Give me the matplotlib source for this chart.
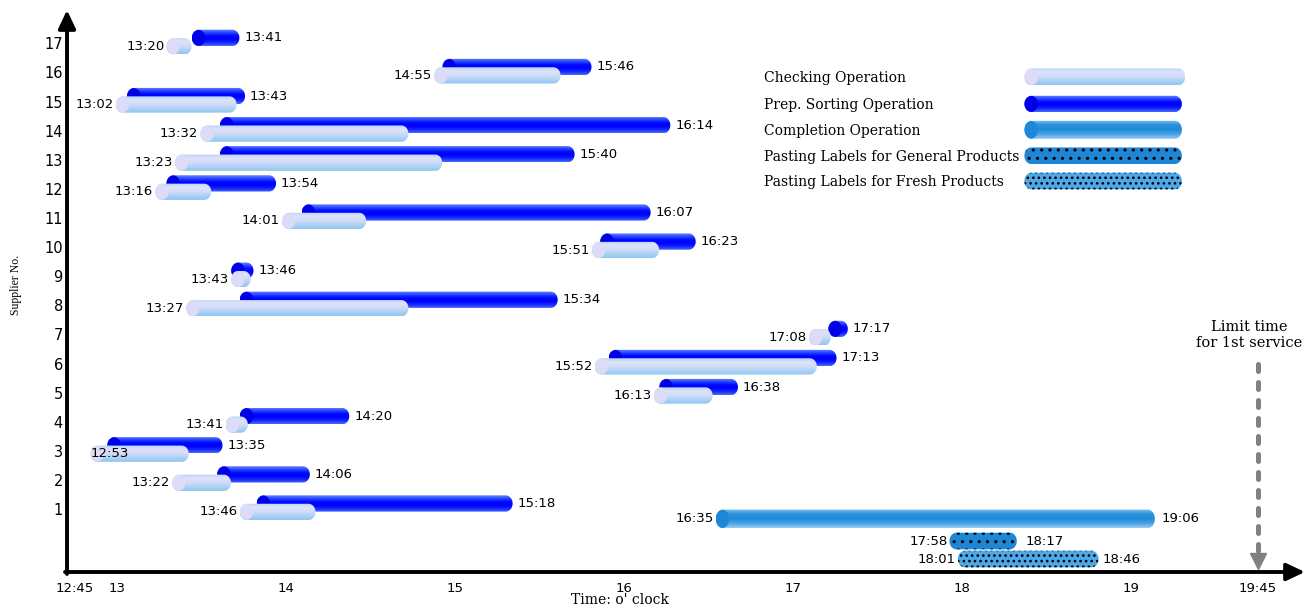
import numpy as np
import matplotlib
matplotlib.use('Agg')
import matplotlib.pyplot as plt
from matplotlib.path import Path
from matplotlib.patches import PathPatch, Ellipse
from matplotlib.colors import LinearSegmentedColormap

# ---------------- data ----------------
suppliers = list(range(1, 18))
check_start = ['13:46', '13:22', '12:53', '13:41', '16:13', '15:52', '17:08', '13:27', '13:43',
               '15:51', '14:01', '13:16', '13:23', '13:32', '13:02', '14:55', '13:20']
check_end = ['14:08', '13:38', '13:23', '13:44', '16:29', '17:06', '17:11', '14:41', '13:45',
             '16:10', '14:26', '13:31', '14:53', '14:41', '13:40', '15:35', '13:24']
prep_start = ['13:52', '13:38', '12:59', '13:46', '16:15', '15:57', '17:15', '13:46', '13:43',
              '15:54', '14:08', '13:20', '13:39', '13:39', '13:06', '14:58', '13:29']
prep_end = ['15:18', '14:06', '13:35', '14:20', '16:38', '17:13', '17:17', '15:34', '13:46',
            '16:23', '16:07', '13:54', '15:40', '16:14', '13:43', '15:46', '13:41']

completion = ['16:35', '19:06']
paste_general = ['17:58', '18:17']
paste_fresh = ['18:01', '18:46']
limit_time = '19:45'

x_ticks = ['12:45', '13:00', '14:00', '15:00', '16:00', '17:00', '18:00', '19:00', '19:45']
x_tick_labels = ['12:45', '13', '14', '15', '16', '17', '18', '19', '19:45']

legend_labels = ['Checking Operation', 'Prep. Sorting Operation', 'Completion Operation',
                 'Pasting Labels for General Products', 'Pasting Labels for Fresh Products']


def hm(s):
    h, m = s.split(':')
    return int(h) + int(m) / 60.0


# ---------------- styles ----------------
NUM_FONT = 'DejaVu Sans'
SERIF = 'DejaVu Serif'
cm_check = LinearSegmentedColormap.from_list('chk', ['#92c6f0', '#acd2f4', '#d0dcf8', '#e0e2fb', '#b4d6f4'])
cm_prep = LinearSegmentedColormap.from_list('prp', ['#4a6cf8', '#1428ff', '#0000ff', '#0008ff', '#2848ff', '#6a88ff'])
cm_comp = LinearSegmentedColormap.from_list('cmp', ['#9ccdf4', '#4aa2e6', '#1e8ad8', '#2a92dc', '#86c2f0'])
CAP_CHECK = '#dcdcf8'
CAP_PREP = '#0000e6'
CAP_COMP = '#1e88d8'
COL_GEN = '#1f86d6'
COL_FRESH = '#4ea8e8'
plt.rcParams['hatch.linewidth'] = 1.1

W, H = 1310, 609
fig = plt.figure(figsize=(W / 100, H / 100), dpi=100)
ax = fig.add_axes([67 / W, (H - 572) / H, (1305 - 67) / W, (572 - 10) / H])
PXH, PXR = 169.0, 29.1
XMIN, XMAX = 13 - 50 / PXH, 13 + 1188 / PXH
YMIN, YMAX = 1 - 63 / PXR, 1 + 499 / PXR

BAR_H = 0.56
DARK_OFF, LIGHT_OFF = 0.19, -0.10
RX = (BAR_H * PXR / 2) / PXH * 0.85


def stadium(x0, x1, yc, h, rx):
    n = 40
    t1 = np.linspace(np.pi / 2, 3 * np.pi / 2, n)
    left = np.column_stack([x0 + rx * np.cos(t1), yc + h / 2 * np.sin(t1)])
    t2 = np.linspace(-np.pi / 2, np.pi / 2, n)
    right = np.column_stack([x1 + rx * np.cos(t2), yc + h / 2 * np.sin(t2)])
    verts = np.vstack([left, right, left[:1]])
    codes = [Path.MOVETO] + [Path.LINETO] * (len(verts) - 2) + [Path.CLOSEPOLY]
    return Path(verts, codes)


def cylinder(x0, x1, yc, h, cmap, cap, z):
    patch = PathPatch(stadium(x0, x1, yc, h, RX), fc='none', ec='none', zorder=z)
    ax.add_patch(patch)
    grad = np.linspace(0, 1, 120).reshape(-1, 1)
    im = ax.imshow(grad, cmap=cmap, extent=[x0 - RX, x1 + RX, yc - h / 2, yc + h / 2],
                   origin='lower', aspect='auto', interpolation='bilinear', zorder=z)
    im.set_clip_path(patch)
    if cap is not None:
        ax.add_patch(Ellipse((x0, yc), 2 * RX * 0.95, h * 0.98, fc=cap, ec='none', zorder=z + 0.01))


def dotted(x0, x1, yc, h, color, hatch, z):
    ax.add_patch(PathPatch(stadium(x0, x1, yc, h, RX), fc=color, ec='black', lw=0,
                           hatch=hatch, zorder=z))


def lab_left(x, y, s):
    if (x - XMIN) * PXH < 50:
        # not enough room before the axis: write over the start of the bar
        ax.annotate(s, xy=(x - RX, y), xytext=(0, 0), textcoords='offset points', ha='left',
                    va='center', fontsize=9.5, family=NUM_FONT, zorder=10)
    else:
        ax.annotate(s, xy=(x - RX, y), xytext=(-1.5, 0), textcoords='offset points', ha='right',
                    va='center', fontsize=9.5, family=NUM_FONT, zorder=10)


def lab_right(x, y, s, off=3.5):
    ax.annotate(s, xy=(x + RX, y), xytext=(off, 0), textcoords='offset points', ha='left',
                va='center', fontsize=9.5, family=NUM_FONT, zorder=10)


# ---------------- supplier bars ----------------
for i, sup in enumerate(suppliers):
    yd = sup + DARK_OFF
    yl = sup + LIGHT_OFF
    z = 2 + i * 0.1
    cylinder(hm(prep_start[i]), hm(prep_end[i]), yd, BAR_H, cm_prep, CAP_PREP, z)
    cylinder(hm(check_start[i]), hm(check_end[i]), yl, BAR_H, cm_check, CAP_CHECK, z + 0.05)
    lab_left(hm(check_start[i]), yl, check_start[i])
    lab_right(hm(prep_end[i]), yd, prep_end[i])

# ---------------- completion / pasting ----------------
y_comp, y_gen, y_fresh = 0.66, -0.10, -0.72
cylinder(hm(completion[0]), hm(completion[1]), y_comp, 0.64, cm_comp, CAP_COMP, 4)
lab_left(hm(completion[0]), y_comp, completion[0])
lab_right(hm(completion[1]), y_comp, completion[1], off=5)
dotted(hm(paste_general[0]), hm(paste_general[1]), y_gen, 0.57, COL_GEN, '..', 4)
lab_left(hm(paste_general[0]), y_gen, paste_general[0])
lab_right(hm(paste_general[1]), y_gen, paste_general[1], off=6)
dotted(hm(paste_fresh[0]), hm(paste_fresh[1]), y_fresh, 0.57, COL_FRESH, '...', 4)
lab_left(hm(paste_fresh[0]), y_fresh, paste_fresh[0])
lab_right(hm(paste_fresh[1]), y_fresh, paste_fresh[1], off=3)

# ---------------- limit time arrow ----------------
xl = hm(limit_time)
ax.plot([xl, xl], [5.98, -0.45], color='#808080', lw=3.6, ls=(0, (1.4, 2.2)),
        dash_capstyle='round', zorder=3)
ax.plot([xl], [-0.78], marker='v', ms=12, color='#808080', mec='#808080', zorder=3)
ax.text(xl - 0.05, 6.98, 'Limit time\nfor 1st service', ha='center', va='center',
        fontsize=10.5, family=SERIF, linespacing=1.15)

# ---------------- legend ----------------
leg_y = [15.85, 14.92, 14.03, 13.14, 12.27]
leg_x0, leg_x1 = 18.41, 19.26
leg_tx = 16.83
cylinder(leg_x0, leg_x1 + 0.02, leg_y[0], 0.58, cm_check, CAP_CHECK, 4)
cylinder(leg_x0, leg_x1, leg_y[1], 0.56, cm_prep, CAP_PREP, 4)
cylinder(leg_x0, leg_x1, leg_y[2], 0.62, cm_comp, CAP_COMP, 4)
dotted(leg_x0, leg_x1, leg_y[3], 0.57, COL_GEN, '..', 4)
dotted(leg_x0, leg_x1, leg_y[4], 0.57, COL_FRESH, '...', 4)
for yy, t in zip(leg_y, legend_labels):
    ax.text(leg_tx, yy - 0.05, t, ha='left', va='center', fontsize=10, family=SERIF)

# ---------------- axes ----------------
ax.set_xlim(XMIN, XMAX)
ax.set_ylim(YMIN, YMAX)
ax.set_xticks([hm(t) for t in x_ticks])
ax.set_xticklabels(x_tick_labels, fontsize=9.5, family=NUM_FONT)
ax.set_yticks(suppliers)
ax.set_yticklabels([str(s) for s in suppliers], fontsize=10.5, family=NUM_FONT)
ax.tick_params(axis='x', length=0, pad=7)
ax.tick_params(axis='y', length=0, pad=3)
for sp in ax.spines.values():
    sp.set_visible(False)
ax.annotate('', xy=(1, 0), xycoords='axes fraction', xytext=(-0.0016, 0), textcoords='axes fraction',
            arrowprops=dict(arrowstyle='-|>,head_length=0.85,head_width=0.4', lw=2.8, color='black',
                            shrinkA=0, shrinkB=0, mutation_scale=13))
ax.annotate('', xy=(0, 1), xycoords='axes fraction', xytext=(0, -0.0035), textcoords='axes fraction',
            arrowprops=dict(arrowstyle='-|>,head_length=0.85,head_width=0.4', lw=2.8, color='black',
                            shrinkA=0, shrinkB=0, mutation_scale=13))

fig.text(620 / W, 1 - 600 / H, "Time: o' clock", ha='center', va='center', fontsize=10, family=SERIF)
fig.text(16 / W, 1 - 285 / H, 'Supplier No.', ha='center', va='center', rotation=90,
         fontsize=8.5, family='Liberation Serif')

fig.savefig('out.png', dpi=100)
